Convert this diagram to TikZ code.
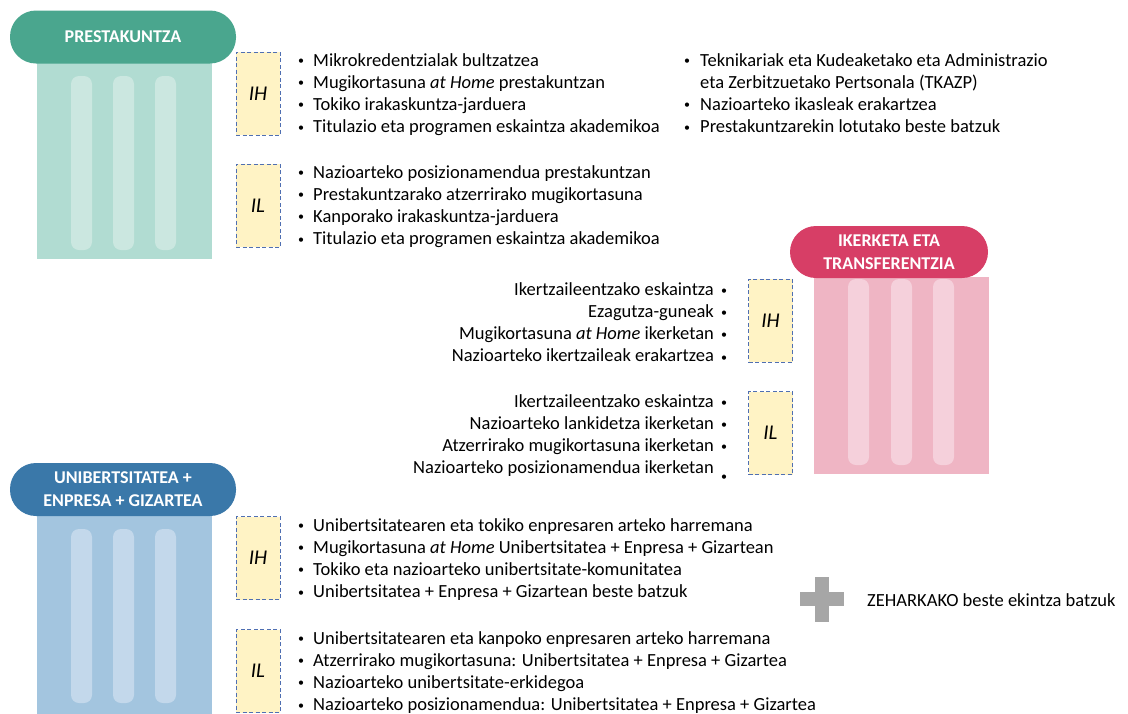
\documentclass[tikz,border=0pt]{standalone}
\usepackage{fontspec}
\setmainfont{Carlito}
\definecolor{tealH}{HTML}{4AA68E}
\definecolor{tealB}{HTML}{B1DCD2}
\definecolor{tealP}{HTML}{CBE7E0}
\definecolor{pinkH}{HTML}{D73E66}
\definecolor{pinkB}{HTML}{EFB5C4}
\definecolor{pinkP}{HTML}{F5D0DB}
\definecolor{blueH}{HTML}{3A78A9}
\definecolor{blueB}{HTML}{A3C5DF}
\definecolor{blueP}{HTML}{C3D8EB}
\definecolor{yel}{HTML}{FFF3C5}
\definecolor{dash}{HTML}{4F6FB2}
\definecolor{plusgray}{HTML}{A6A6A6}
\begin{document}
\begin{tikzpicture}[x=1pt,y=-1pt,
  header/.style={rectangle,rounded corners=26pt,minimum width=226pt,minimum height=53pt,inner sep=0pt,
     text=white,font=\fontsize{18}{23}\selectfont\bfseries,align=center},
  colbody/.style={rectangle,inner sep=0pt,minimum width=175pt,minimum height=197pt},
  pillar/.style={rectangle,rounded corners=8pt,inner sep=0pt,minimum width=21pt},
  ibox/.style={rectangle,draw=dash,dash pattern=on 4pt off 2.5pt,fill=yel,line width=1pt,
     minimum width=44pt,minimum height=83pt,inner sep=0pt,font=\fontsize{21}{24}\selectfont\itshape},
  txt/.style={inner sep=0pt,font=\fontsize{18.5}{22}\selectfont,anchor=base west},
  rtxt/.style={inner sep=0pt,font=\fontsize{18.5}{22}\selectfont,anchor=base east},
  bul/.style={inner sep=0pt,font=\fontsize{12}{14}\selectfont,anchor=center},
]
\useasboundingbox (0,0) rectangle (1128,713);
% ---------- PRESTAKUNTZA ----------
\node[colbody,fill=tealB,anchor=north west] (pb) at (37,62) {};
\foreach \x [count=\k] in {81.5,123.5,165.5}
  \node[pillar,fill=tealP,minimum height=174pt] (pp\k) at (\x,163) {};
\node[header,fill=tealH] (ph) at (123,37) {PRESTAKUNTZA};
\node[ibox] (pih) at (258,93.5) {IH};
\node[ibox] (pil) at (258,205.5) {IL};
\foreach \t [count=\i from 0] in {Mikrokredentzialak bultzatzea,Mugikortasuna \textit{at Home} prestakuntzan,Tokiko irakaskuntza-jarduera,Titulazio eta programen eskaintza akademikoa}{
  \node[bul] (pbh\i) at (301,{61.5+22.3*\i}) {•};
  \node[txt] (pth\i) at (313,{66+22.3*\i}) {\t};}
\foreach \t [count=\i from 0] in {Nazioarteko posizionamendua prestakuntzan,Prestakuntzarako atzerrirako mugikortasuna,Kanporako irakaskuntza-jarduera,Titulazio eta programen eskaintza akademikoa}{
  \node[bul] (pbl\i) at (301,{173.5+22.3*\i}) {•};
  \node[txt] (ptl\i) at (313,{178+22.3*\i}) {\t};}
\foreach \t [count=\i from 0] in {Teknikariak eta Kudeaketako eta Administrazio,Nazioarteko ikasleak erakartzea,Prestakuntzarekin lotutako beste batzuk}{
  \pgfmathsetmacro\yy{\i==0 ? 66 : 66+22.3*(\i+1)}
  \node[bul] (pbr\i) at (687,\yy-4.5) {•};
  \node[txt] (ptr\i) at (700,\yy) {\t};}
\node[txt] (ptr0b) at (700,88.3) {eta Zerbitzuetako Pertsonala (TKAZP)};
% ---------- IKERKETA ----------
\node[colbody,fill=pinkB,anchor=north west] (ib) at (814,277) {};
\foreach \x [count=\k] in {858.5,901.5,943.5}
  \node[pillar,fill=pinkP,minimum height=186pt] (ip\k) at (\x,372) {};
\node[header,fill=pinkH,minimum width=198pt,minimum height=52pt] (ih) at (889,252) {IKERKETA ETA\\TRANSFERENTZIA};
\node[ibox] (iih) at (770.5,320.5) {IH};
\node[ibox] (iil) at (770.5,433) {IL};
\foreach \t [count=\i from 0] in {Ikertzaileentzako eskaintza,Ezagutza-guneak,Mugikortasuna \textit{at Home} ikerketan,Nazioarteko ikertzaileak erakartzea}{
  \node[bul] (ibh\i) at (724,{291.5+22.3*\i}) {•};
  \node[rtxt] (ith\i) at (714,{295+22.3*\i}) {\t};}
\foreach \t [count=\i from 0] in {Ikertzaileentzako eskaintza,Nazioarteko lankidetza ikerketan,Atzerrirako mugikortasuna ikerketan,Nazioarteko posizionamendua ikerketan}{
  \node[rtxt] (itl\i) at (714,{407+22.3*\i}) {\t};}
\foreach \yy [count=\i from 0] in {403.5,425.8,448.1,478}
  \node[bul] (ibl\i) at (724,\yy) {•};
% ---------- UNIBERTSITATEA ----------
\node[colbody,fill=blueB,anchor=north west,minimum height=200pt] (ub) at (37,514) {};
\foreach \x [count=\k] in {81.5,123.5,165.5}
  \node[pillar,fill=blueP,minimum height=174pt] (up\k) at (\x,616) {};
\node[header,fill=blueH] (uh) at (123,489.5) {UNIBERTSITATEA +\\ENPRESA + GIZARTEA};
\node[ibox] (uih) at (258,558) {IH};
\node[ibox] (uil) at (258,671) {IL};
\foreach \t [count=\i from 0] in {Unibertsitatearen eta tokiko enpresaren arteko harremana,Mugikortasuna \textit{at Home} Unibertsitatea + Enpresa + Gizartean,Tokiko eta nazioarteko unibertsitate-komunitatea,Unibertsitatea + Enpresa + Gizartean beste batzuk}{
  \node[bul] (ubh\i) at (301,{526.5+22.3*\i}) {•};
  \node[txt] (uth\i) at (313,{531+22.3*\i}) {\t};}
\foreach \t [count=\i from 0] in {Unibertsitatearen eta kanpoko enpresaren arteko harremana,Atzerrirako mugikortasuna: Unibertsitatea + Enpresa + Gizartea,Nazioarteko unibertsitate-erkidegoa,Nazioarteko posizionamendua: Unibertsitatea + Enpresa + Gizartea}{
  \node[bul] (ubl\i) at (301,{639.5+22.3*\i}) {•};
  \node[txt] (utl\i) at (313,{644+22.3*\i}) {\t};}
% ---------- PLUS ----------
\fill[plusgray] (815,577) rectangle (829,622);
\fill[plusgray] (800,592) rectangle (844,606);
\node[txt] (zeh) at (867,606) {ZEHARKAKO beste ekintza batzuk};
\end{tikzpicture}
\end{document}
